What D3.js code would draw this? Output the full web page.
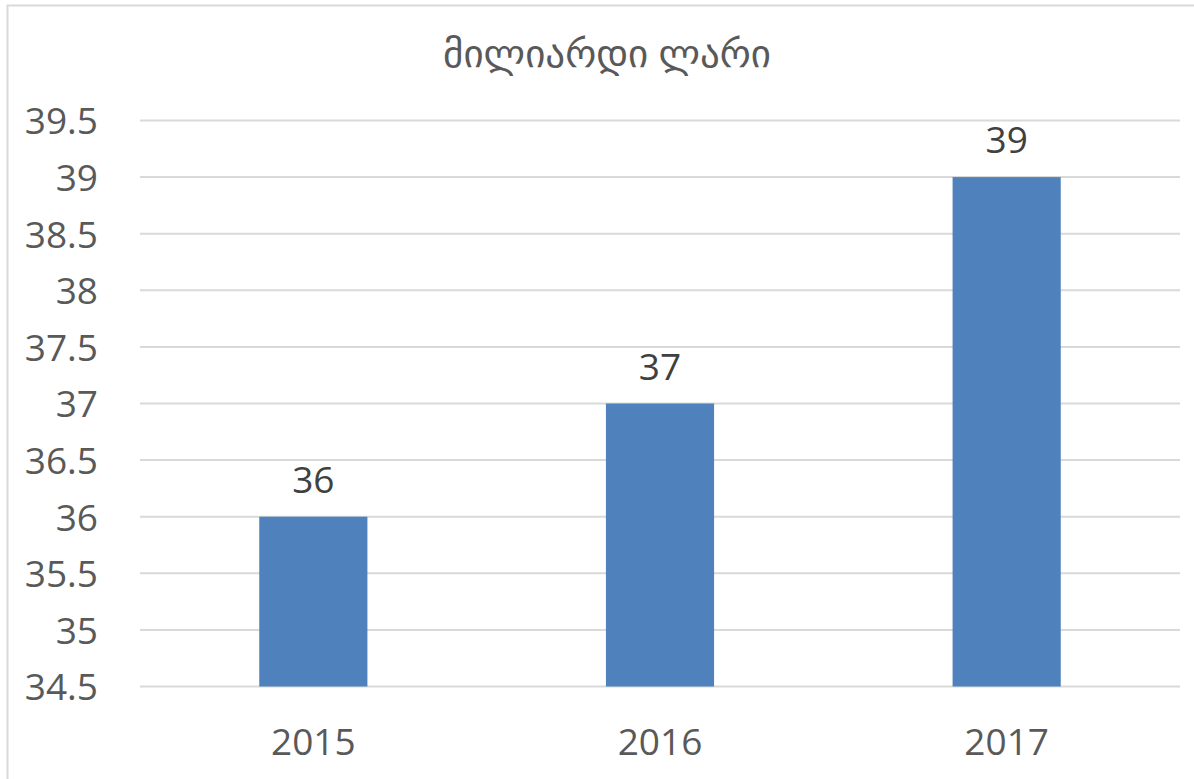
<!DOCTYPE html>
<html>
<head>
<meta charset="utf-8">
<script src="https://cdn.jsdelivr.net/npm/d3@7"></script>
<style>
  body { margin: 0; background: #fff; }
  svg { display: block; }
  text { font-family: "Open Sans", "DejaVu Sans", sans-serif; }
</style>
</head>
<body>
<script>
var width = 1194,
	height = 779;

// Chart data
var years = ["2015", "2016", "2017"];
var values = [36, 37, 39];
var yTicks = [34.5, 35, 35.5, 36, 36.5, 37, 37.5, 38, 38.5, 39, 39.5];
var title = "მილიარდი ლარი";

var margin = {top: 120.5, right: 14, bottom: 92.5, left: 140};

var svg = d3.select("body").append("svg")
	.attr("width", width)
	.attr("height", height);

// Chart border (runs off the right and bottom of the picture)
svg.append("rect")
	.attr("x", 7.5)
	.attr("y", 5.5)
	.attr("width", 1220)
	.attr("height", 800)
	.attr("fill", "none")
	.attr("stroke", "#d9d9d9")
	.attr("stroke-width", 2);

var x = d3.scaleBand()
	.domain(years)
	.range([margin.left, width - margin.right])
	.padding(0);

var y = d3.scaleLinear()
	.domain([34.5, 39.5])
	.range([height - margin.bottom, margin.top]);

var barWidth = x.bandwidth() * 0.312;

// Gridlines
svg.append("g")
	.selectAll("line")
	.data(yTicks)
	.enter().append("line")
		.attr("x1", margin.left)
		.attr("x2", width - margin.right)
		.attr("y1", function(d) { return y(d); })
		.attr("y2", function(d) { return y(d); })
		.attr("stroke", "#d9d9d9")
		.attr("stroke-width", 2);

// Y axis labels
var yAxis = d3.axisLeft(y)
	.tickValues(yTicks)
	.tickSize(0)
	.tickPadding(0)
	.tickFormat(function(d) { return d; });

var yg = svg.append("g")
	.attr("transform", "translate(98,0)")
	.call(yAxis);
yg.select(".domain").remove();
yg.selectAll("text")
	.attr("fill", "#595959")
	.style("font-size", "37px")
	.attr("dy", "0.36em");

// X axis labels
var xAxis = d3.axisBottom(x)
	.tickSize(0)
	.tickPadding(0);

var xg = svg.append("g")
	.attr("transform", "translate(0," + (height - margin.bottom) + ")")
	.call(xAxis);
xg.select(".domain").remove();
xg.selectAll("text")
	.attr("fill", "#595959")
	.style("font-size", "37px")
	.attr("dy", null)
	.attr("y", 68);

// Bars
svg.append("g")
	.selectAll("rect")
	.data(values)
	.enter().append("rect")
		.attr("x", function(d, i) { return x(years[i]) + (x.bandwidth() - barWidth) / 2; })
		.attr("y", function(d) { return y(d); })
		.attr("width", barWidth)
		.attr("height", function(d) { return y(34.5) - y(d); })
		.attr("fill", "#4f81bd");

// Data labels
svg.append("g")
	.selectAll("text")
	.data(values)
	.enter().append("text")
		.attr("x", function(d, i) { return x(years[i]) + x.bandwidth() / 2; })
		.attr("y", function(d) { return y(d) - 24; })
		.attr("text-anchor", "middle")
		.attr("fill", "#404040")
		.style("font-size", "37px")
		.text(function(d) { return d; });

// Title
svg.append("text")
	.attr("x", 607)
	.attr("y", 67)
	.attr("text-anchor", "middle")
	.attr("fill", "#595959")
	.style("font-size", "39px")
	.text(title);
</script>
</body>
</html>
